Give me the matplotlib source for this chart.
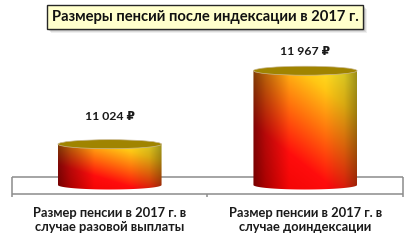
import numpy as np
import matplotlib
matplotlib.use("Agg")
import matplotlib.pyplot as plt
from matplotlib.patches import Ellipse, PathPatch, Rectangle
from matplotlib.path import Path
from matplotlib.colors import LinearSegmentedColormap
import matplotlib.transforms as mtransforms

# --- data -------------------------------------------------------------
categories = ["Размер пенсии в 2017 г. в\nслучае разовой выплаты",
              "Размер пенсии в 2017 г. в\nслучае доиндексации"]
values = [11024, 11967]
value_labels = ["11 024 ₽", "11 967 ₽"]
title = "Размеры пенсий после индексации в 2017 г."

# --- layout -----------------------------------------------------------
W_PX, H_PX, DPI = 414, 240, 100
Y_BASE = 10500          # value at the floor of the 3D plot
BASE_PX = 185           # pixel row (from top) of the floor centre
PX_PER_UNIT = 0.0779    # vertical pixels per rouble
PX_PER_CAT = 195.5      # horizontal pixels per category
LEFT_PX = 12
BAR_W = 0.53            # cylinder width in category units
ELL_PX = 4.5            # half height of the cylinder ellipses in pixels
LABEL_GAP_PX = [28, 19]  # gap between cylinder top and its value label

FONT = ["Lato", "DejaVu Sans"]
plt.rcParams["font.family"] = FONT

fig = plt.figure(figsize=(W_PX / DPI, H_PX / DPI), dpi=DPI)
ax = fig.add_axes([0, 0, 1, 1])
ax.set_xlim(-0.5 - LEFT_PX / PX_PER_CAT, -0.5 - LEFT_PX / PX_PER_CAT + W_PX / PX_PER_CAT)
ax.set_ylim(Y_BASE - (H_PX - BASE_PX) / PX_PER_UNIT, Y_BASE + BASE_PX / PX_PER_UNIT)
ax.axis("off")

# pixel transform with origin at the top-left corner
px = (mtransforms.Affine2D().scale(1, -1).translate(0, H_PX).scale(1 / DPI)
      + fig.dpi_scale_trans)

# --- floor of the 3D plot ---------------------------------------------
gray = "#8c8c8c"
lw = 1.1
for (xs, ys) in [((12, 403), (177, 177)), ((12, 403), (193.5, 193.5)),
                 ((12, 12), (177, 197)), ((403, 403), (177, 197)),
                 ((206.5, 206.5), (193.5, 197))]:
    ax.plot(xs, ys, color=gray, lw=lw, transform=px, solid_capstyle="butt", zorder=1)

# --- cylinders --------------------------------------------------------
fire = LinearSegmentedColormap.from_list(
    "fire", [(0.0, (0.92, 0.0, 0.0)), (0.35, (1.0, 0.05, 0.05)),
             (0.62, (1.0, 0.45, 0.05)), (0.85, (1.0, 0.78, 0.08)),
             (1.0, (1.0, 0.9, 0.15))])

ny, nx = 200, 200
uu, vv = np.meshgrid(np.linspace(0, 1, nx), np.linspace(0, 1, ny))
t = np.clip(0.64 * vv + 0.44 * uu, 0, 1)
rgb = fire(t)[..., :3]
shade = np.interp(uu, [0.0, 0.12, 0.35, 0.7, 0.88, 1.0],
                  [0.5, 0.72, 1.0, 1.0, 0.85, 0.62])
rgb = rgb * shade[..., None]
img = np.dstack([np.clip(rgb, 0, 1), np.ones((ny, nx))])

b = ELL_PX / PX_PER_UNIT
for i, v in enumerate(values):
    x0, x1 = i - BAR_W / 2, i + BAR_W / 2
    a = BAR_W / 2
    theta = np.linspace(np.pi, 2 * np.pi, 60)
    arc = np.column_stack([i + a * np.cos(theta), Y_BASE + b * np.sin(theta)])
    verts = np.vstack([[x0, v], arc, [x1, v], [x0, v]])
    codes = [Path.MOVETO] + [Path.LINETO] * (len(verts) - 2) + [Path.CLOSEPOLY]
    body = PathPatch(Path(verts, codes), facecolor="none", edgecolor="none")
    ax.add_patch(body)
    im = ax.imshow(img, extent=(x0, x1, Y_BASE - b, v), origin="lower",
                   aspect="auto", interpolation="bilinear", zorder=2)
    im.set_clip_path(body)
    top = Ellipse((i, v), BAR_W, 2 * b, facecolor="#a08400",
                  edgecolor="#c9b890", lw=0.5, zorder=3)
    ax.add_patch(top)
    ax.text(i, v + LABEL_GAP_PX[i] / PX_PER_UNIT, value_labels[i],
            ha="center", va="center", fontsize=8.8, fontweight="bold",
            color="#1a1a1a", zorder=4)
    ax.text(i, Y_BASE - 35 / PX_PER_UNIT, categories[i], ha="center", va="center",
            fontsize=9.3, fontweight="bold", color="#1a1a1a",
            linespacing=1.2, zorder=4)

# --- title box ----------------------------------------------------------
for k, al in [(4, 0.12), (3, 0.18), (2, 0.25)]:
    ax.add_patch(Rectangle((47 + k, 5 + k), 316, 24, transform=px,
                           facecolor="#808080", edgecolor="none", alpha=al, zorder=5))
ax.add_patch(Rectangle((47, 5), 316, 24, transform=px, facecolor="#ffffcc",
                       edgecolor="#262626", lw=1.0, zorder=6))
ax.text(205.5, 17.5, title, transform=px, ha="center", va="center",
        fontsize=10.6, fontweight="bold", color="#111111", zorder=7)

fig.savefig("out.png", dpi=DPI)
